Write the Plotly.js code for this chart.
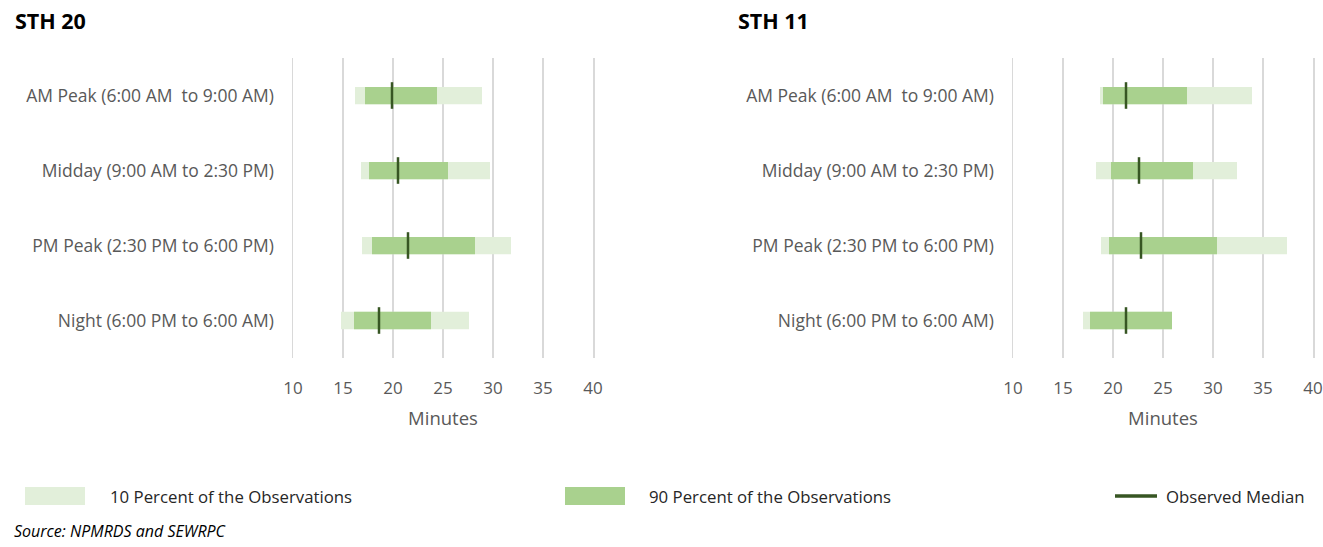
<!DOCTYPE html>
<html>
<head>
<meta charset="utf-8">
<script src="https://cdn.plot.ly/plotly-3.0.1.min.js"></script>
<style>html,body{margin:0;padding:0;background:#fff;}#chart{width:1323px;height:547px;}</style>
</head>
<body>
<div id="chart"></div>
<script>
const periods = ["AM Peak (6:00 AM\u00a0 to 9:00 AM)", "Midday (9:00 AM to 2:30 PM)", "PM Peak (2:30 PM to 6:00 PM)", "Night (6:00 PM to 6:00 AM)"];
// STH 20 (minutes)
const sth20Low10 = [16.2, 16.8, 16.9, 14.8];
const sth20High10 = [28.9, 29.7, 31.8, 27.6];
const sth20Low90 = [17.2, 17.6, 17.9, 16.1];
const sth20High90 = [24.4, 25.5, 28.2, 23.8];
const sth20Median = [19.9, 20.5, 21.5, 18.6];
// STH 11 (minutes)
const sth11Low10 = [18.7, 18.3, 18.8, 17.0];
const sth11High10 = [33.9, 32.4, 37.4, 25.9];
const sth11Low90 = [19.0, 19.8, 19.6, 17.7];
const sth11High90 = [27.4, 28.0, 30.4, 25.9];
const sth11Median = [21.3, 22.6, 22.8, 21.3];
const xTicks = [10, 15, 20, 25, 30, 35, 40];

const LIGHT = "#e2efda", DARK = "#a9d18e", MED = "#375623";
const FONT = "Open Sans, Noto Sans, sans-serif";

function diff(a, b) { return a.map((v, i) => +(v - b[i]).toFixed(2)); }

function traces(lo10, hi10, lo90, hi90, med, xa, ya) {
  return [
    {type: "bar", orientation: "h", y: periods, base: lo10, x: diff(hi10, lo10), width: 0.23,
     marker: {color: LIGHT}, xaxis: xa, yaxis: ya, showlegend: false, hoverinfo: "skip"},
    {type: "bar", orientation: "h", y: periods, base: lo90, x: diff(hi90, lo90), width: 0.23,
     marker: {color: DARK}, xaxis: xa, yaxis: ya, showlegend: false, hoverinfo: "skip"},
    {type: "scatter", mode: "markers", y: periods, x: med, xaxis: xa, yaxis: ya,
     marker: {symbol: "line-ns", size: 19, line: {color: MED, width: 2.5}}, showlegend: false, hoverinfo: "skip"}
  ];
}

const data = [
  ...traces(sth20Low10, sth20High10, sth20Low90, sth20High90, sth20Median, "x", "y"),
  ...traces(sth11Low10, sth11High10, sth11Low90, sth11High90, sth11Median, "x2", "y2")
];

const W = 1323, H = 547;
function xd(a, b) { return [a / W, b / W]; }
const yDom = [1 - 358 / H, 1 - 58 / H];

function xaxisDef(dom, anchor) {
  return {domain: dom, anchor: anchor, range: [10, 40], tickvals: xTicks, ticktext: xTicks.map(String),
    showgrid: true, gridcolor: "#d9d9d9", gridwidth: 1.5, zeroline: false, showline: false, ticks: "",
    ticklabelstandoff: 18, tickfont: {family: FONT, size: 17, color: "#595959"},
    title: {text: "Minutes", font: {family: FONT, size: 18.5, color: "#595959"}, standoff: 14}, fixedrange: true};
}
function yaxisDef(anchor) {
  return {domain: yDom, anchor: anchor, type: "category", autorange: "reversed", showgrid: false,
    zeroline: false, showline: true, linecolor: "#d9d9d9", linewidth: 1.5, mirror: true, ticks: "", ticklabelstandoff: 14,
    tickfont: {family: FONT, size: 17.5, color: "#595959"}, fixedrange: true};
}

const legendY = 1 - 496 / H;
const layout = {
  width: W, height: H, margin: {l: 0, r: 0, t: 0, b: 0}, paper_bgcolor: "#fff", plot_bgcolor: "#fff",
  barmode: "overlay", showlegend: false,
  xaxis: xaxisDef(xd(293, 593), "y"), yaxis: yaxisDef("x"),
  xaxis2: xaxisDef(xd(1013, 1313), "y2"), yaxis2: yaxisDef("x2"),
  shapes: [
    {type: "rect", xref: "paper", yref: "paper", x0: 25 / W, x1: 85 / W, y0: 1 - 505 / H, y1: 1 - 487 / H, fillcolor: LIGHT, line: {width: 0}},
    {type: "rect", xref: "paper", yref: "paper", x0: 565 / W, x1: 625 / W, y0: 1 - 505 / H, y1: 1 - 487 / H, fillcolor: DARK, line: {width: 0}},
    {type: "line", xref: "paper", yref: "paper", x0: 1115 / W, x1: 1157 / W, y0: legendY, y1: legendY, line: {color: MED, width: 3.5}}
  ],
  annotations: [
    {text: "<b>STH 20</b>", xref: "paper", yref: "paper", x: 13 / W, y: 1 - 20 / H, xanchor: "left", yanchor: "middle", showarrow: false, font: {family: FONT, size: 21.5, color: "#000"}},
    {text: "<b>STH 11</b>", xref: "paper", yref: "paper", x: 736 / W, y: 1 - 20 / H, xanchor: "left", yanchor: "middle", showarrow: false, font: {family: FONT, size: 21.5, color: "#000"}},
    {text: "10 Percent of the Observations", xref: "paper", yref: "paper", x: 108 / W, y: legendY, xanchor: "left", yanchor: "middle", showarrow: false, font: {family: FONT, size: 16.8, color: "#262626"}},
    {text: "90 Percent of the Observations", xref: "paper", yref: "paper", x: 647 / W, y: legendY, xanchor: "left", yanchor: "middle", showarrow: false, font: {family: FONT, size: 16.8, color: "#262626"}},
    {text: "Observed Median", xref: "paper", yref: "paper", x: 1164 / W, y: legendY, xanchor: "left", yanchor: "middle", showarrow: false, font: {family: FONT, size: 16.8, color: "#262626"}},
    {text: "<i>Source: NPMRDS and SEWRPC</i>", xref: "paper", yref: "paper", x: 12 / W, y: 1 - 531 / H, xanchor: "left", yanchor: "middle", showarrow: false, font: {family: FONT, size: 16, color: "#000"}}
  ]
};

Plotly.newPlot("chart", data, layout, {displayModeBar: false, staticPlot: true});
</script>
</body>
</html>
